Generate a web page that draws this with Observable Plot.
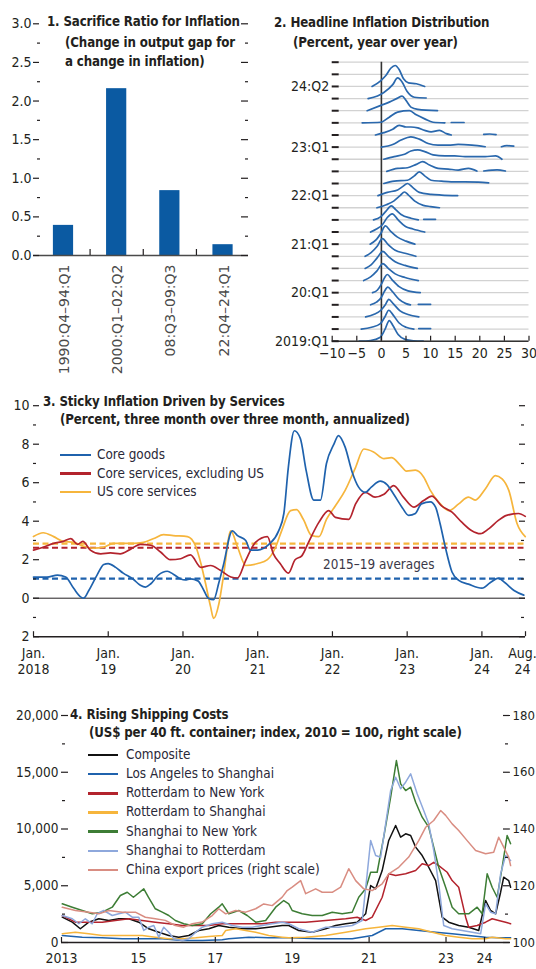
<!DOCTYPE html>
<html>
<head>
<meta charset="utf-8">
<script src="https://cdn.jsdelivr.net/npm/d3@7"></script>
<script src="https://cdn.jsdelivr.net/npm/@observablehq/plot@0.6"></script>
<style>
  html, body { margin: 0; padding: 0; background: #fff; }
  #chart { position: relative; width: 536px; height: 969px; overflow: hidden; background: #fff; }
  #chart svg { position: absolute; left: 0; top: 0; }
  .ttl { position: absolute; white-space: nowrap; font-weight: bold; line-height: 18px; font-size: 13.2px; letter-spacing: -0.15px; color: #231f20; }
  .lg { position: absolute; white-space: nowrap; line-height: 18px; font-size: 13.4px; color: #2a2838; }
  .sw { position: absolute; height: 2.5px; }
</style>
</head>
<body>
<div id="chart"></div>
<script>
const NARROW = '"Liberation Sans Narrow", "Arial Narrow", "DejaVu Sans Condensed", sans-serif';
const REGULAR = '"DejaVu Sans", sans-serif';
const INK = "#231f20";
const W = 536;

// ---------------- Panel 1 data ----------------
const sacrificePeriods = ["1990:Q4–94:Q1", "2000:Q1–02:Q2", "08:Q3–09:Q3", "22:Q4–24:Q1"];
const sacrificeRatio = [0.39, 2.16, 0.84, 0.14];
const sacrificeTicks = [0, 0.5, 1, 1.5, 2, 2.5, 3];
const sacrificeMinorTicks = [0.25, 0.75, 1.25, 1.75, 2.25, 2.75];

// ---------------- Panel 2 data ----------------
const ridgeQuarters = ["2019:Q1","2019:Q2","2019:Q3","2019:Q4","2020:Q1","2020:Q2","2020:Q3","2020:Q4",
  "2021:Q1","2021:Q2","2021:Q3","2021:Q4","2022:Q1","2022:Q2","2022:Q3","2022:Q4",
  "2023:Q1","2023:Q2","2023:Q3","2023:Q4","2024:Q1","2024:Q2"];
const ridgeGridRows = [0,1,2,3,4,5,6,7,8,9,10,11,12,13,14,15,16,17,18,19,20,21,22,23];
const ridgeLabelRows = [0, 4, 8, 12, 16, 21];
const ridgeLabels = ["2019:Q1", "20:Q1", "21:Q1", "22:Q1", "23:Q1", "24:Q2"];
const ridgeXTicks = [-10, -5, 0, 5, 10, 15, 20, 25, 30];
// each quarter: list of segments of [inflation, density height]
const ridgeCurves = [
  [[[-4.5,0],[-2.2,0.06],[-0.3,0.3],[0.7,0.95],[1.6,1.7],[2.4,1.25],[3.4,0.55],[4.8,0.15],[6.5,0.03],[8.5,0]]],
  [[[-4.1,0],[-2,0.15],[-0.2,0.45],[0.7,1.0],[1.5,1.55],[2.4,1.15],[3.6,0.5],[5,0.15],[6.6,0]], [[7.6,0.04],[10,0.04]]],
  [[[-3.2,0],[-1.6,0.2],[-0.1,0.55],[0.8,1.0],[1.5,1.45],[2.4,1.1],[3.8,0.5],[5.4,0.2],[7.6,0]]],
  [[[-2.2,0],[-1,0.22],[0,0.62],[0.6,1.1],[1.3,1.45],[2.2,1.1],[3.6,0.45],[5,0.1],[5.9,0]], [[7.5,0.04],[10,0.04]]],
  [[[-1.8,0],[-0.8,0.22],[0,0.7],[0.6,1.2],[1.2,1.5],[2.1,1.1],[3.6,0.5],[5.4,0.15],[7.9,0]]],
  [[[-3.6,0],[-2.2,0.3],[-0.9,0.8],[0.3,1.4],[1.4,1.0],[2.8,0.55],[4.8,0.25],[7.5,0]]],
  [[[-3.3,0],[-2.1,0.3],[-0.9,0.85],[0.3,1.4],[1.4,1.0],[2.8,0.55],[4.8,0.25],[7.3,0]]],
  [[[-3.3,0],[-2.1,0.3],[-0.9,0.8],[0.2,1.45],[1.3,1.0],[2.8,0.5],[4.8,0.25],[7,0]]],
  [[[-2.3,0],[-1.1,0.35],[-0.1,0.9],[0.8,1.5],[1.8,1.1],[3.2,0.6],[5,0.25],[6.8,0]]],
  [[[-2.2,0],[-1,0.25],[0.2,0.6],[1.2,1.2],[2.2,1.5],[3.4,1.0],[4.9,0.45],[6.4,0.25],[8.8,0]]],
  [[[-1.6,0],[-0.1,0.27],[0.9,0.7],[2.0,1.15],[2.9,0.85],[4,0.45],[6,0.14],[7.5,0]], [[8.6,0.05],[11,0.05]]],
  [[[-0.9,0],[1,0.25],[2.5,0.55],[3.8,1.0],[4.7,1.3],[5.5,1.05],[6.8,0.55],[8.5,0.2],[10,0.1],[11.8,0]]],
  [[[-0.7,0],[1.2,0.27],[3.3,0.47],[4.3,0.74],[5.3,1.0],[6.4,0.66],[7.7,0.27],[10.1,0.11],[12.2,0.05],[15.5,0]]],
  [[[0.5,0],[2.6,0.19],[5.3,0.27],[6.7,0.63],[7.7,0.96],[8.8,0.63],[10.1,0.27],[12.2,0.19],[14.2,0.14],[17,0.14],[19.7,0.11],[21.8,0.05]]],
  [[[1.1,0],[3.3,0.25],[5.3,0.3],[7.1,0.58],[8.4,0.8],[9.8,0.52],[11.5,0.25],[13.6,0.19],[15.6,0.11],[17.7,0.25],[19.4,0.03]], [[20.8,0.03],[22.5,0.1],[23.5,0.12],[25.2,0.03]]],
  [[[0.5,0],[2.6,0.22],[4.7,0.41],[6,0.68],[7.4,0.77],[8.8,0.63],[10.5,0.36],[12.9,0.27],[14.9,0.27],[17,0.22],[19,0.22],[21.1,0.22],[23.2,0.27],[24.5,0]]],
  [[[0,0],[2.3,0.22],[4,0.58],[6,0.85],[7.7,0.66],[9.5,0.3],[11.5,0.16],[13.6,0.16],[15.6,0.22],[18.4,0.16],[21.1,0.03]], [[24.4,0.03],[25.5,0.12],[26.9,0.08]]],
  [[[-1.2,0],[0.5,0.19],[2.3,0.47],[3.6,0.8],[5,0.66],[6,0.66],[7.4,0.58],[8.8,0.38],[10.1,0.25],[11.8,0.38],[13.2,0.11],[14.2,0]], [[20.8,0.05],[22,0.08],[23.3,0.03]]],
  [[[-3.9,0],[-0.1,0.05],[1.6,0.47],[3.3,0.88],[5.7,1.0],[7.1,0.66],[8.8,0.33],[10.5,0.05],[12.9,0]], [[14.2,0.03],[16.8,0.03]]],
  [[[-2.9,0],[-0.1,0.44],[1.6,0.71],[3.3,1.04],[4.2,1.2],[5,0.85],[6,0.3],[7.4,0.11],[11.4,0]]],
  [[[-2.7,0],[-0.8,0.22],[0.5,0.5],[2.3,1.15],[3.3,1.7],[4.2,1.37],[5.2,0.6],[6.7,0.11],[9.1,0.05]]],
  [[[-1.9,0],[-0.1,0.49],[0.9,0.9],[1.9,1.5],[2.8,1.73],[3.6,1.4],[4.5,0.63],[5.5,0.3],[7.1,0.22],[8.8,0]]]
];

// ---------------- Panel 3 data ----------------
const stickyDateTicks = [2018, 2019, 2020, 2021, 2022, 2023, 2024, 2024 + 7 / 12];
const stickyDateLabels = ["Jan.\n2018", "Jan.\n19", "Jan.\n20", "Jan.\n21", "Jan.\n22", "Jan.\n23", "Jan.\n24", "Aug.\n24"];
const stickyYTicks = [-2, 0, 2, 4, 6, 8, 10];
const stickyYMinor = [-1, 1, 3, 5, 7, 9];
const stickySeries = ["Core goods", "Core services, excluding US", "US core services"];
const stickyAverages = [1.02, 2.62, 2.83];
const stickyAverageLabel = "2015–19 averages";
const coreGoods = [[2018.00,1.1],[2018.18,1.1],[2018.32,1.2],[2018.43,1.1],[2018.54,0.5],[2018.63,0.07],[2018.67,0.0],[2018.74,0.4],[2018.85,1.2],[2018.94,1.75],[2019.00,1.8],[2019.10,1.6],[2019.20,1.3],[2019.33,1.0],[2019.43,0.67],[2019.50,0.58],[2019.57,0.75],[2019.67,1.2],[2019.79,1.4],[2019.87,1.25],[2019.97,1.0],[2020.03,0.95],[2020.10,1.0],[2020.20,0.9],[2020.28,0.4],[2020.34,0.0],[2020.41,-0.08],[2020.48,0.8],[2020.54,1.7],[2020.66,3.5],[2020.73,3.25],[2020.84,3.0],[2020.90,2.5],[2021.00,2.5],[2021.08,2.6],[2021.15,2.8],[2021.28,3.5],[2021.35,4.4],[2021.41,6.8],[2021.49,8.7],[2021.57,8.3],[2021.65,6.6],[2021.75,5.1],[2021.84,5.1],[2021.92,7.0],[2022.02,8.0],[2022.08,8.45],[2022.17,7.85],[2022.26,6.6],[2022.35,5.77],[2022.44,5.5],[2022.52,5.77],[2022.64,6.08],[2022.73,5.9],[2022.82,5.4],[2022.93,4.73],[2023.02,4.3],[2023.11,4.4],[2023.19,4.9],[2023.31,5.0],[2023.38,4.73],[2023.44,3.88],[2023.51,2.66],[2023.60,1.36],[2023.69,0.93],[2023.82,0.73],[2024.00,0.52],[2024.11,0.8],[2024.22,1.04],[2024.31,0.8],[2024.43,0.4],[2024.56,0.16]];
const coreServicesExUS = [[2018.00,2.5],[2018.13,2.65],[2018.27,2.85],[2018.40,2.95],[2018.50,3.1],[2018.59,2.8],[2018.66,2.95],[2018.76,2.5],[2018.90,2.3],[2019.03,2.35],[2019.16,2.3],[2019.30,2.55],[2019.43,2.8],[2019.57,2.75],[2019.70,2.4],[2019.83,2.0],[2019.97,2.05],[2020.10,2.25],[2020.24,1.6],[2020.37,1.7],[2020.50,1.45],[2020.64,1.1],[2020.73,1.05],[2020.84,1.97],[2020.97,2.9],[2021.13,3.2],[2021.21,2.3],[2021.30,1.8],[2021.41,1.3],[2021.50,2.0],[2021.59,2.2],[2021.68,2.9],[2021.82,3.95],[2021.95,4.55],[2022.04,4.2],[2022.22,4.1],[2022.31,4.9],[2022.44,5.5],[2022.57,5.25],[2022.69,5.4],[2022.82,5.85],[2022.95,5.25],[2023.09,4.73],[2023.22,5.07],[2023.33,5.3],[2023.46,4.8],[2023.60,4.47],[2023.73,3.95],[2023.86,3.52],[2023.98,3.35],[2024.09,3.6],[2024.22,4.04],[2024.33,4.3],[2024.49,4.4],[2024.58,4.25]];
const usCoreServices = [[2018.00,3.2],[2018.13,3.4],[2018.27,3.2],[2018.40,2.95],[2018.54,2.9],[2018.67,2.7],[2018.80,2.6],[2018.94,2.65],[2019.07,2.85],[2019.20,2.85],[2019.34,2.85],[2019.47,2.9],[2019.61,3.1],[2019.74,3.3],[2019.87,3.25],[2020.06,3.2],[2020.17,2.7],[2020.24,1.8],[2020.30,0.8],[2020.37,-0.45],[2020.41,-1.05],[2020.48,-0.3],[2020.54,1.1],[2020.64,3.5],[2020.73,2.66],[2020.84,1.7],[2021.00,1.8],[2021.13,2.0],[2021.24,2.66],[2021.32,3.5],[2021.44,4.55],[2021.52,4.6],[2021.61,4.1],[2021.72,3.26],[2021.82,3.2],[2021.92,4.1],[2022.04,4.8],[2022.17,5.6],[2022.31,6.8],[2022.42,7.75],[2022.55,7.6],[2022.69,7.25],[2022.79,7.3],[2022.91,6.9],[2022.99,6.6],[2023.11,6.65],[2023.22,6.3],[2023.31,5.6],[2023.42,5.0],[2023.56,4.55],[2023.69,4.9],[2023.82,5.25],[2023.91,5.1],[2024.05,5.7],[2024.18,6.37],[2024.27,6.2],[2024.36,5.6],[2024.47,3.88],[2024.58,3.2]];

// ---------------- Panel 4 data ----------------
const shipYearTicks = [2013, 2015, 2017, 2019, 2021, 2023, 2024];
const shipYearLabels = ["2013", "15", "17", "19", "21", "23", "24"];
const shipLeftTicks = [0, 5000, 10000, 15000, 20000];
const shipLeftMinor = [2500, 7500, 12500, 17500];
const shipRightTicks = [100, 120, 140, 160, 180];
const shipRightMinor = [110, 130, 150, 170];
const shipSeries = ["Composite", "Los Angeles to Shanghai", "Rotterdam to New York", "Rotterdam to Shanghai", "Shanghai to New York", "Shanghai to Rotterdam", "China export prices (right scale)"];
const composite = [[2013.02,2230],[2013.28,1790],[2013.49,1210],[2013.71,1790],[2013.97,2090],[2014.23,1940],[2014.49,2090],[2014.75,2090],[2015.01,1790],[2015.27,1210],[2015.53,910],[2015.79,620],[2016.05,470],[2016.31,620],[2016.57,1060],[2016.83,1210],[2017.09,1500],[2017.35,1350],[2017.70,1210],[2018.05,1210],[2018.39,1350],[2018.74,1500],[2018.91,1500],[2019.17,1060],[2019.52,910],[2019.87,1210],[2020.13,1500],[2020.39,1650],[2020.69,1790],[2020.91,2530],[2021.04,5020],[2021.17,4730],[2021.34,6340],[2021.51,8990],[2021.69,10310],[2021.82,9280],[2021.95,9580],[2022.08,9430],[2022.21,8400],[2022.38,7660],[2022.55,6630],[2022.73,5460],[2022.90,2230],[2023.07,1790],[2023.33,1500],[2023.59,1350],[2023.85,1060],[2024.03,3700],[2024.16,2820],[2024.29,2530],[2024.42,4430],[2024.50,5750],[2024.63,5460],[2024.68,4870]];
const laShanghai = [[2013.02,620],[2013.54,470],[2014.06,410],[2014.58,330],[2015.10,330],[2015.62,330],[2016.14,180],[2016.66,180],[2017.18,240],[2017.35,330],[2017.87,470],[2018.39,410],[2018.91,410],[2019.69,330],[2020.56,330],[2021.08,620],[2021.43,1210],[2021.86,1210],[2022.29,1060],[2022.73,910],[2023.16,770],[2023.59,620],[2024.03,470],[2024.37,410],[2024.68,410]];
const rotterdamNewYork = [[2013.02,2380],[2013.36,1790],[2013.71,1790],[2014.06,1790],[2014.40,1940],[2014.75,2090],[2015.10,1940],[2015.44,1790],[2015.79,1650],[2016.14,1500],[2016.49,1500],[2016.83,1500],[2017.18,1650],[2017.53,1650],[2017.87,1650],[2018.22,1650],[2018.57,1790],[2018.91,1790],[2019.35,1790],[2019.87,1940],[2020.39,2090],[2020.69,2230],[2020.91,1940],[2021.08,2230],[2021.34,3990],[2021.51,6050],[2021.69,5900],[2021.95,6050],[2022.21,6340],[2022.38,6930],[2022.55,6780],[2022.68,7070],[2022.81,6780],[2023.03,6190],[2023.16,5460],[2023.33,4870],[2023.51,2230],[2023.59,1350],[2023.81,1500],[2024.03,1790],[2024.20,2090],[2024.37,1940],[2024.55,1790],[2024.68,1650]];
const rotterdamShanghai = [[2013.02,770],[2013.36,910],[2013.71,770],[2014.06,620],[2014.40,620],[2014.75,620],[2015.10,620],[2015.44,470],[2015.79,330],[2016.14,330],[2016.49,410],[2016.83,530],[2017.18,620],[2017.27,1060],[2017.53,1210],[2017.79,1060],[2018.05,910],[2018.39,620],[2018.74,470],[2018.91,410],[2019.35,470],[2019.87,620],[2020.39,910],[2020.91,1210],[2021.25,1350],[2021.60,1500],[2021.95,1350],[2022.29,1210],[2022.64,910],[2022.99,620],[2023.33,470],[2023.68,330],[2024.03,330],[2024.20,470],[2024.55,330],[2024.68,330]];
const shanghaiNewYork = [[2013.02,3410],[2013.28,3110],[2013.54,2820],[2013.80,2530],[2014.06,2670],[2014.32,3110],[2014.53,4140],[2014.71,4430],[2014.87,3990],[2015.14,4730],[2015.26,3990],[2015.44,2970],[2015.62,2670],[2015.79,2380],[2015.96,1940],[2016.18,1650],[2016.40,1500],[2016.66,1650],[2016.88,2530],[2017.09,3110],[2017.18,3410],[2017.35,2530],[2017.61,2820],[2017.83,2380],[2018.05,1790],[2018.31,1940],[2018.57,3110],[2018.78,3700],[2018.91,3410],[2019.00,2820],[2019.26,2530],[2019.52,2380],[2019.78,2380],[2020.04,2670],[2020.30,2530],[2020.56,2670],[2020.73,3990],[2020.91,4730],[2021.04,6190],[2021.21,6190],[2021.38,9280],[2021.56,12800],[2021.71,16030],[2021.82,13980],[2021.95,13390],[2022.08,13680],[2022.21,12360],[2022.38,11040],[2022.55,10160],[2022.68,8400],[2022.81,6630],[2022.99,4870],[2023.16,3110],[2023.33,2530],[2023.59,2530],[2023.81,3110],[2023.94,2530],[2024.07,6050],[2024.20,4870],[2024.33,3990],[2024.46,6630],[2024.59,9430],[2024.68,8700]];
const shanghaiRotterdam = [[2013.02,2380],[2013.28,2090],[2013.45,1650],[2013.62,2090],[2013.80,1650],[2013.93,2530],[2014.10,2820],[2014.32,2380],[2014.49,2530],[2014.66,2670],[2014.84,2230],[2015.01,2230],[2015.14,1060],[2015.27,1350],[2015.40,1500],[2015.53,470],[2015.66,1350],[2015.79,910],[2015.92,330],[2016.14,180],[2016.31,330],[2016.49,910],[2016.66,1350],[2016.92,1650],[2017.18,1790],[2017.44,1500],[2017.70,1350],[2017.96,1350],[2018.22,1500],[2018.48,1650],[2018.74,1790],[2018.91,1650],[2019.17,1210],[2019.52,910],[2019.87,1350],[2020.21,1350],[2020.56,1500],[2020.82,1940],[2020.95,6050],[2021.04,8990],[2021.17,7660],[2021.30,7510],[2021.43,10460],[2021.56,13390],[2021.69,14560],[2021.82,13540],[2021.95,14120],[2022.08,14860],[2022.25,13100],[2022.42,11630],[2022.55,10460],[2022.68,8110],[2022.81,5170],[2022.94,1500],[2023.16,1210],[2023.42,1060],[2023.68,910],[2023.90,770],[2024.03,3410],[2024.16,2670],[2024.29,2530],[2024.42,6050],[2024.55,7660],[2024.68,7220]];
const chinaExportPrices = [[2013.02,112.4],[2013.36,111.3],[2013.71,110.7],[2013.97,110.1],[2014.23,111.3],[2014.58,110.7],[2014.92,110.7],[2015.18,108.9],[2015.44,108.4],[2015.70,107.8],[2015.96,106.0],[2016.18,105.4],[2016.40,106.6],[2016.66,107.2],[2016.92,109.5],[2017.09,111.9],[2017.27,110.1],[2017.53,111.3],[2017.79,110.7],[2018.05,111.9],[2018.26,113.6],[2018.48,113.0],[2018.74,116.0],[2018.87,118.3],[2019.00,119.5],[2019.22,121.8],[2019.35,117.2],[2019.61,118.9],[2019.78,117.7],[2020.04,117.7],[2020.26,119.5],[2020.47,126.0],[2020.65,121.8],[2020.86,118.9],[2021.08,118.3],[2021.34,120.7],[2021.51,124.2],[2021.77,126.5],[2022.03,130.1],[2022.29,135.9],[2022.47,140.6],[2022.68,143.0],[2022.86,146.5],[2022.99,144.8],[2023.16,141.8],[2023.33,139.5],[2023.55,135.9],[2023.77,132.4],[2024.03,131.3],[2024.24,131.8],[2024.37,137.1],[2024.50,133.6],[2024.63,130.1],[2024.68,127.1]];

// ---------------- Styles ----------------
const BAR = "#0b5aa2";
const RIDGE = "#2a68ad";
const stickyColors = ["#1f62ad", "#b3232d", "#f6b53c"];
const shipColors = ["#111111", "#1f62ad", "#b3232d", "#f6b53c", "#3d7d35", "#8ea8dc", "#d98d82"];
const shipData = [composite, laShanghai, rotterdamNewYork, rotterdamShanghai, shanghaiNewYork, shanghaiRotterdam];
const rightToLeft = v => (v - 100) * 250; // right index scale 100–180 ↔ left 0–20,000

const chart = document.getElementById("chart");
function baseStyle() {
  return {fontFamily: NARROW, fontSize: "14px", color: INK, background: "transparent", overflow: "visible"};
}
function yEdgeTicks(values, side, start, len, frameW, opts = {}) {
  return Plot.tickY(values, {
    y: d => d,
    insetLeft: side === "left" ? start : frameW - start - len,
    insetRight: side === "left" ? frameW - start - len : start,
    stroke: INK, strokeWidth: 1.2, ...opts
  });
}
function xBottomTicks(values, len, frameH, opts = {}) {
  return Plot.tickX(values, {x: d => d, insetTop: frameH - len, stroke: INK, strokeWidth: 1.2, ...opts});
}
function place(svg) { chart.appendChild(svg); }

// ---------------- Panel 1 ----------------
{
  const L = 33, R = 248, T = 23.3, B = 255, H = 370;
  const fw = R - L, fh = B - T;
  place(Plot.plot({
    width: W, height: H, marginLeft: L, marginRight: W - R, marginTop: T, marginBottom: H - B,
    x: {domain: [-0.564, 3.479], axis: null},
    y: {domain: [0, 3], axis: null},
    style: baseStyle(),
    marks: [
      Plot.rect(sacrificeRatio, {x1: (d, i) => i - 0.19, x2: (d, i) => i + 0.19, y1: 0, y2: d => d, fill: BAR}),
      Plot.ruleY([0], {stroke: "#4a4a4a", strokeWidth: 1.6}),
      xBottomTicks(sacrificePeriods.slice(1).map((d, i) => i + 0.5), 6, fh),
      yEdgeTicks(sacrificeTicks, "left", 0, 6, fw),
      yEdgeTicks(sacrificeMinorTicks, "left", 4, 3, fw),
      yEdgeTicks(sacrificeTicks, "right", 0, 7, fw),
      yEdgeTicks(sacrificeMinorTicks, "right", 0, 3, fw),
      Plot.axisY(sacrificeTicks, {anchor: "left", label: null, tickSize: 0, tickPadding: 2, tickFormat: d3.format(".1f")}),
      Plot.text(sacrificePeriods, {x: (d, i) => i, y: 0, text: d => d, rotate: -90, textAnchor: "end", dy: 9, dx: 1,
        fontFamily: REGULAR, fontSize: 14, fill: "#4a4a4a"})
    ]
  }));
}

// ---------------- Panel 2 ----------------
{
  const L = 331.7, R = 528.5, T = 61.7, B = 340.7, H = 370;
  const fw = R - L, fh = B - T;
  const ridgeData = ridgeCurves.flatMap((segs, row) =>
    segs.flatMap((seg, s) => seg.map(([x, h]) => ({quarter: ridgeQuarters[row], x, y: row + h, key: row + "-" + s}))));
  place(Plot.plot({
    width: W, height: H, marginLeft: L, marginRight: W - R, marginTop: T, marginBottom: H - B,
    x: {domain: [-10, 30]},
    y: {domain: [0, 23]},
    style: baseStyle(),
    marks: [
      Plot.tickY(ridgeGridRows, {y: d => d, insetLeft: 7, stroke: "#d2d2d2", strokeWidth: 1.3}),
      Plot.ruleX([0], {stroke: "#333", strokeWidth: 1.6}),
      Plot.line(ridgeData, {x: "x", y: "y", z: "key", stroke: RIDGE, strokeWidth: 1.7, curve: "monotone-x"}),
      Plot.ruleY([0], {stroke: "#333", strokeWidth: 1.4}),
      xBottomTicks(ridgeXTicks, 5, fh),
      yEdgeTicks(ridgeGridRows, "left", 0, 7, fw, {strokeWidth: 2}),
      Plot.axisY(ridgeLabelRows, {label: null, tickSize: 0, tickPadding: 3, tickFormat: d => ridgeLabels[ridgeLabelRows.indexOf(d)]}),
      Plot.axisX(ridgeXTicks, {label: null, tickSize: 0, tickPadding: 7})
    ]
  }));
}

// ---------------- Panel 3 ----------------
{
  const L = 33, R = 525, T = 405.2, B = 636.2, H = 700;
  const fw = R - L, fh = B - T;
  const seriesData = [coreGoods, coreServicesExUS, usCoreServices];
  const lastTick = stickyDateTicks[stickyDateTicks.length - 1];
  const labelOf = d => stickyDateLabels[stickyDateTicks.indexOf(d)];
  place(Plot.plot({
    width: W, height: H, marginLeft: L, marginRight: W - R, marginTop: T, marginBottom: H - B,
    x: {domain: [2018, 2024 + 7 / 12]},
    y: {domain: [-2, 10]},
    style: baseStyle(),
    marks: [
      Plot.ruleY([0], {stroke: INK, strokeWidth: 1}),
      ...[2, 1, 0].map(i => Plot.ruleY([stickyAverages[i]], {y: d => d, stroke: stickyColors[i], strokeWidth: 2.2, strokeDasharray: "6,3.5"})),
      Plot.text([stickyAverageLabel], {x: 2022.62, y: 1.75, text: d => d, fill: "#3a3848", fontSize: 13.4}),
      ...[2, 1, 0].map(i => Plot.line(seriesData[i], {x: d => d[0], y: d => d[1], stroke: stickyColors[i], strokeWidth: 1.7, curve: "monotone-x"})),
      Plot.ruleY([-2], {stroke: INK, strokeWidth: 1.5}),
      xBottomTicks(stickyDateTicks, 5, fh),
      yEdgeTicks(stickyYTicks, "left", 0, 6, fw),
      yEdgeTicks(stickyYMinor, "left", 0, 3, fw),
      yEdgeTicks(stickyYTicks, "right", 0, 6, fw),
      yEdgeTicks(stickyYMinor, "right", 1, 3, fw),
      Plot.axisY(stickyYTicks, {label: null, tickSize: 0, tickPadding: 4, tickFormat: d => String(Math.abs(d))}),
      Plot.axisX(stickyDateTicks.slice(0, -1), {label: null, tickSize: 0, tickPadding: 9, lineHeight: 1.2, tickFormat: labelOf}),
      Plot.axisX([lastTick], {label: null, tickSize: 0, tickPadding: 9, lineHeight: 1.2, dx: -3, tickFormat: labelOf})
    ]
  }));
}

// ---------------- Panel 4 ----------------
{
  const L = 61, R = 510, T = 715, B = 942, H = 969;
  const fw = R - L, fh = B - T;
  place(Plot.plot({
    width: W, height: H, marginLeft: L, marginRight: W - R, marginTop: T, marginBottom: H - B,
    x: {domain: [2013, 2024.677]},
    y: {domain: [0, 20000]},
    style: baseStyle(),
    marks: [
      ...shipData.map((s, i) => Plot.line(s, {x: d => d[0], y: d => d[1], stroke: shipColors[i], strokeWidth: 1.5})),
      Plot.line(chinaExportPrices, {x: d => d[0], y: d => rightToLeft(d[1]), stroke: shipColors[6], strokeWidth: 1.5}),
      Plot.ruleY([0], {stroke: INK, strokeWidth: 1.5}),
      xBottomTicks(shipYearTicks, 5, fh),
      yEdgeTicks(shipLeftTicks, "left", 0, 7, fw),
      yEdgeTicks(shipLeftMinor, "left", 1, 3, fw),
      yEdgeTicks(shipRightTicks.map(rightToLeft), "right", 0, 7, fw),
      yEdgeTicks(shipRightMinor.map(rightToLeft), "right", 2, 3, fw),
      Plot.axisY(shipLeftTicks, {anchor: "left", label: null, tickSize: 0, tickPadding: 3, fontSize: 13.5, tickFormat: d3.format(",")}),
      Plot.axisY(shipRightTicks.map(rightToLeft), {anchor: "right", label: null, tickSize: 0, tickPadding: 2, fontSize: 13, tickFormat: d => String(d / 250 + 100)}),
      Plot.axisX(shipYearTicks, {label: null, tickSize: 0, tickPadding: 11, tickFormat: d => shipYearLabels[shipYearTicks.indexOf(d)]})
    ]
  }));
}

// ---------------- Titles & legends (HTML text) ----------------
const titleLayout = [
  ["1. Sacrifice Ratio for Inflation", 47, 22],
  ["(Change in output gap for", 65, 43],
  ["a change in inflation)", 65, 62],
  ["2. Headline Inflation Distribution", 274, 23],
  ["(Percent, year over year)", 293, 43],
  ["3. Sticky Inflation Driven by Services", 43, 402],
  ["(Percent, three month over three month, annualized)", 60, 420],
  ["4. Rising Shipping Costs", 70, 715],
  ["(US$ per 40 ft. container; index, 2010 = 100, right scale)", 89, 733]
];
for (const [text, x, y] of titleLayout) {
  const d = document.createElement("div");
  d.className = "ttl"; d.textContent = text;
  d.style.left = x + "px"; d.style.top = (y - 9) + "px"; d.style.fontFamily = NARROW;
  chart.appendChild(d);
}
function legend(names, colors, x0, x1, tx, y0, dy) {
  names.forEach((name, i) => {
    const y = y0 + i * dy;
    const sw = document.createElement("div");
    sw.className = "sw"; sw.style.left = x0 + "px"; sw.style.width = (x1 - x0) + "px";
    sw.style.top = (y - 1.25) + "px"; sw.style.background = colors[i];
    chart.appendChild(sw);
    const t = document.createElement("div");
    t.className = "lg"; t.textContent = name; t.style.fontFamily = NARROW;
    t.style.left = tx + "px"; t.style.top = (y - 9) + "px";
    chart.appendChild(t);
  });
}
legend(stickySeries, stickyColors, 60, 91, 97, 455, 18.5);
legend(shipSeries, shipColors, 88, 118, 126, 755, 19.15);
</script>
</body>
</html>
